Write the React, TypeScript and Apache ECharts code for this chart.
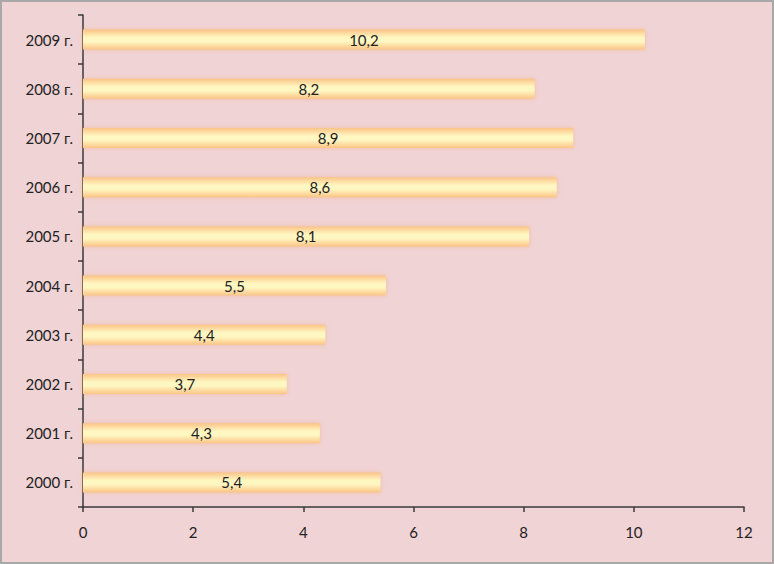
import React, { useEffect, useRef } from "react";
import * as echarts from "echarts";

const categories = ["2000 г.", "2001 г.", "2002 г.", "2003 г.", "2004 г.", "2005 г.", "2006 г.", "2007 г.", "2008 г.", "2009 г."];
const values = [5.4, 4.3, 3.7, 4.4, 5.5, 8.1, 8.6, 8.9, 8.2, 10.2];
const xMin = 0;
const xMax = 12;
const xStep = 2;

export default function App() {
  const ref = useRef<HTMLDivElement>(null);
  useEffect(() => {
    if (!ref.current) return;
    const chart = echarts.init(ref.current, undefined, { renderer: "svg" });
    const font = "Lato, 'Open Sans', sans-serif";
    chart.setOption({
      animation: false,
      backgroundColor: "#f0d3d5",
      graphic: [
        {
          type: "rect",
          shape: { x: 1, y: 1, width: 772, height: 562 },
          style: { fill: "none", stroke: "#a8a8a8", lineWidth: 2 },
          z: 100,
        },
      ],
      grid: { left: 83, right: 30, top: 15, bottom: 57, containLabel: false },
      xAxis: {
        type: "value",
        min: xMin,
        max: xMax,
        interval: xStep,
        axisLine: { show: true, lineStyle: { color: "#3a3a3a", width: 1.5 } },
        axisTick: { show: true, length: 5, lineStyle: { color: "#3a3a3a", width: 1.5 } },
        splitLine: { show: false },
        axisLabel: { color: "#222", fontSize: 15, fontFamily: font, margin: 17 },
      },
      yAxis: {
        type: "category",
        data: categories,
        axisLine: { show: true, lineStyle: { color: "#3a3a3a", width: 1.5 } },
        axisTick: { show: true, length: 5, alignWithLabel: false, lineStyle: { color: "#3a3a3a", width: 1.5 } },
        axisLabel: { color: "#222", fontSize: 15, fontFamily: font, margin: 10 },
      },
      series: [
        {
          type: "bar",
          data: values,
          barWidth: 20,
          itemStyle: {
            color: new echarts.graphic.LinearGradient(0, 0, 0, 1, [
              { offset: 0, color: "#fbc486" },
              { offset: 0.4, color: "#fff7c2" },
              { offset: 0.6, color: "#fff7c2" },
              { offset: 1, color: "#fbc486" },
            ]),
            shadowBlur: 4,
            shadowColor: "rgba(240,160,90,0.45)",
          },
          label: {
            show: true,
            position: "inside",
            color: "#222",
            fontSize: 15,
            fontFamily: font,
            formatter: (p: any) => String(p.value).replace(".", ","),
          },
        },
      ],
    });
    return () => chart.dispose();
  }, []);
  return <div ref={ref} style={{ position: "fixed", left: 0, top: 0, width: 774, height: 564 }} />;
}
